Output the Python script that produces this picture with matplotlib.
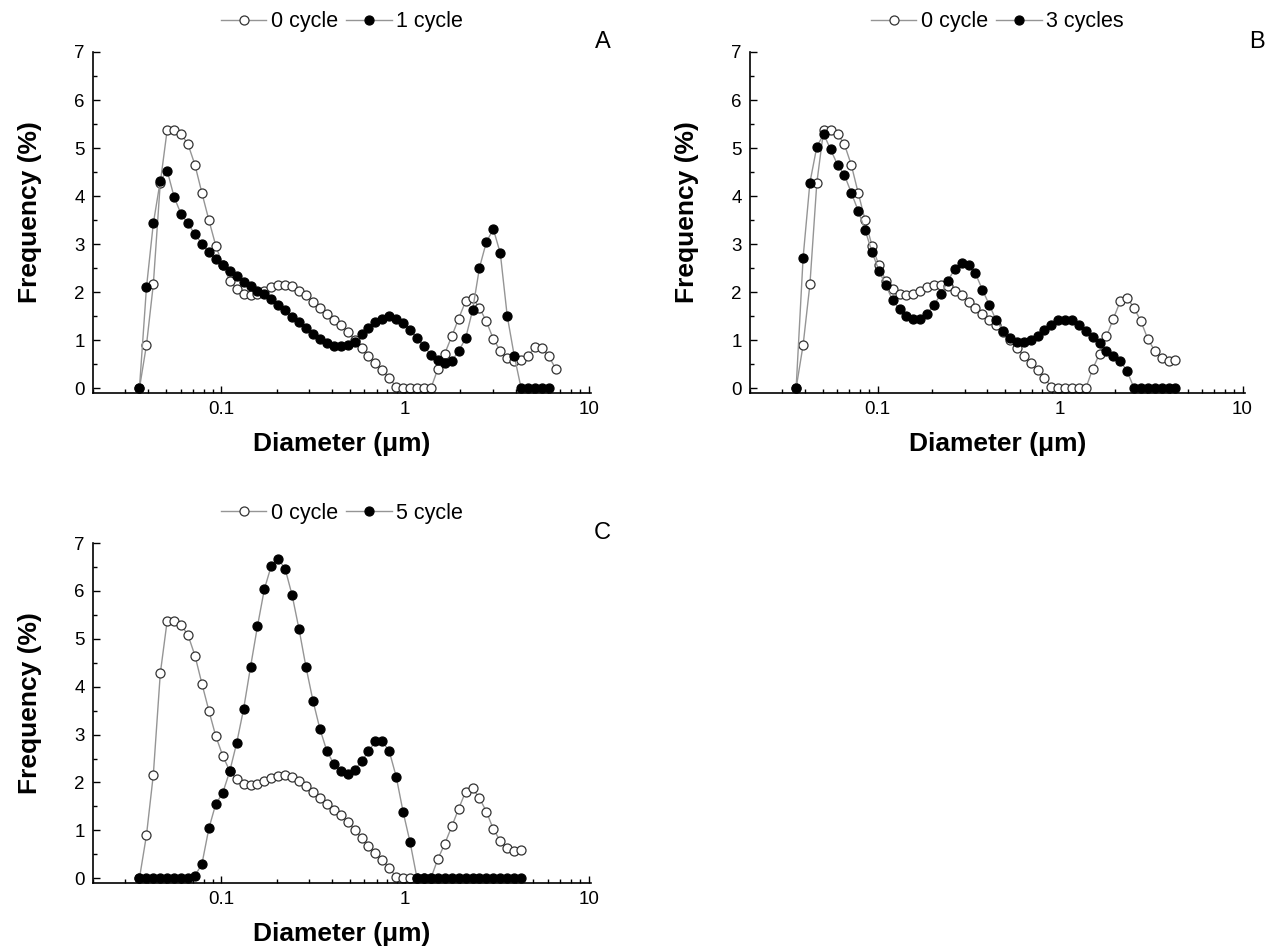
"""
Particle size distributions (frequency vs diameter) after 0, 1, 3 and 5 cycles.
Three panels: A (0 vs 1 cycle), B (0 vs 3 cycles), C (0 vs 5 cycle).
"""

import matplotlib.pyplot as plt
from matplotlib.ticker import LogLocator, MultipleLocator, FuncFormatter, NullFormatter

plt.rcParams['font.family'] = ['Liberation Sans', 'DejaVu Sans']

# Size classes (um)
diameter = [0.0358, 0.0391, 0.0426, 0.0465, 0.0507, 0.0553, 0.0604, 0.0658,
            0.0718, 0.0784, 0.0855, 0.0932, 0.1017, 0.1110, 0.1211, 0.1321,
            0.1441, 0.1572, 0.1715, 0.1871, 0.2041, 0.2226, 0.2429, 0.2649,
            0.2890, 0.3153, 0.3440, 0.3752, 0.4093, 0.4466, 0.4872, 0.5315,
            0.5798, 0.6325, 0.6900, 0.7527, 0.8212, 0.8958, 0.9773, 1.066,
            1.163, 1.269, 1.384, 1.510, 1.647, 1.797, 1.960, 2.139,
            2.333, 2.545, 2.777, 3.029, 3.304, 3.605, 3.933, 4.290,
            4.680, 5.106, 5.570, 6.076, 6.629]

# Frequency (%) of each series
freq_0cycle = [0, 0.90, 2.16, 4.28, 5.38, 5.38, 5.29, 5.08, 4.65, 4.06,
               3.50, 2.97, 2.56, 2.24, 2.07, 1.96, 1.94, 1.96, 2.02, 2.10,
               2.14, 2.15, 2.12, 2.03, 1.93, 1.80, 1.67, 1.55, 1.43, 1.31,
               1.18, 1.01, 0.84, 0.68, 0.52, 0.38, 0.21, 0.03, 0, 0,
               0, 0, 0, 0.40, 0.72, 1.08, 1.45, 1.81, 1.88, 1.67,
               1.39, 1.02, 0.78, 0.63, 0.56, 0.58, 0.67, 0.86, 0.84, 0.66,
               0.40]

freq_1cycle = [0, 2.10, 3.43, 4.32, 4.53, 3.98, 3.62, 3.43, 3.20, 3.01,
               2.83, 2.70, 2.56, 2.45, 2.33, 2.22, 2.12, 2.02, 1.96, 1.86,
               1.73, 1.62, 1.48, 1.37, 1.25, 1.13, 1.02, 0.95, 0.88, 0.87,
               0.90, 0.97, 1.13, 1.25, 1.38, 1.44, 1.50, 1.44, 1.36, 1.22,
               1.04, 0.87, 0.70, 0.59, 0.52, 0.57, 0.77, 1.04, 1.62, 2.51,
               3.05, 3.31, 2.81, 1.50, 0.68, 0, 0, 0, 0, 0]

freq_3cycles = [0, 2.72, 4.28, 5.03, 5.29, 4.97, 4.65, 4.44, 4.07, 3.69,
                3.29, 2.84, 2.45, 2.14, 1.83, 1.64, 1.51, 1.45, 1.45, 1.55,
                1.74, 1.96, 2.23, 2.49, 2.61, 2.56, 2.39, 2.05, 1.74, 1.41,
                1.20, 1.04, 0.96, 0.96, 1.00, 1.08, 1.22, 1.32, 1.41, 1.43,
                1.41, 1.32, 1.20, 1.06, 0.94, 0.77, 0.68, 0.57, 0.35, 0,
                0, 0, 0, 0, 0, 0]

freq_5cycle = [0, 0, 0, 0, 0, 0, 0, 0, 0.05, 0.30,
               1.04, 1.55, 1.78, 2.23, 2.82, 3.53, 4.41, 5.26, 6.04, 6.53,
               6.67, 6.46, 5.91, 5.20, 4.41, 3.71, 3.12, 2.66, 2.39, 2.23,
               2.18, 2.26, 2.44, 2.65, 2.86, 2.86, 2.65, 2.12, 1.38, 0.75,
               0, 0, 0, 0, 0, 0, 0, 0, 0, 0,
               0, 0, 0, 0, 0, 0]

fig = plt.figure(figsize=(12.69, 9.52), dpi=100)

line_gray = '#959595'


def draw_panel(rect, y_open, y_fill, labels, letter):
    ax = fig.add_axes(rect)
    ax.plot(diameter[:len(y_open)], y_open, '-o', color=line_gray, lw=1.0,
            ms=6.5, mfc='white', mec='#333333', mew=0.9, label=labels[0])
    ax.plot(diameter[:len(y_fill)], y_fill, '-o', color=line_gray, lw=1.0,
            ms=6.5, mfc='black', mec='black', mew=0.9, label=labels[1])

    ax.set_xscale('log')
    ax.set_xlim(0.02, 10.3)
    ax.set_ylim(-0.1, 7)

    ax.xaxis.set_major_locator(LogLocator(base=10))
    ax.xaxis.set_minor_locator(LogLocator(base=10, subs=range(2, 10)))
    ax.xaxis.set_major_formatter(FuncFormatter(lambda v, p: f'{v:g}'))
    ax.xaxis.set_minor_formatter(NullFormatter())
    ax.yaxis.set_major_locator(MultipleLocator(1))
    ax.yaxis.set_minor_locator(MultipleLocator(0.5))

    for side in ['top', 'right']:
        ax.spines[side].set_visible(False)
    for side in ['left', 'bottom']:
        ax.spines[side].set_linewidth(1.2)

    ax.tick_params(which='both', direction='in', width=1.0, labelsize=13.5, pad=6)
    ax.tick_params(which='major', length=5)
    ax.tick_params(which='minor', length=3)

    ax.set_xlabel('Diameter (μm)', fontsize=19, fontweight='bold')
    ax.set_ylabel('Frequency (%)', fontsize=19, fontweight='bold')
    ax.xaxis.label.set_va('center')
    ax.yaxis.label.set_va('center')
    ax.xaxis.set_label_coords(0.5, -0.15)
    ax.yaxis.set_label_coords(-0.127, 0.53)

    ax.legend(loc='center', bbox_to_anchor=(0.5, 1.088), ncol=2, frameon=False,
              fontsize=15.5, handlelength=2.1, handletextpad=0.2,
              columnspacing=0.4, borderaxespad=0, numpoints=1)

    ax.text(1.04, 1.03, letter, transform=ax.transAxes, ha='right',
            va='center', fontsize=17)
    return ax


draw_panel([0.0733, 0.5872, 0.3924, 0.3582], freq_0cycle, freq_1cycle,
           ['0 cycle', '1 cycle'], 'A')
draw_panel([0.591, 0.5872, 0.390, 0.3582], freq_0cycle[:56], freq_3cycles,
           ['0 cycle', '3 cycles'], 'B')
draw_panel([0.0733, 0.0725, 0.3924, 0.357], freq_0cycle[:56], freq_5cycle,
           ['0 cycle', '5 cycle'], 'C')

fig.savefig('out.png', dpi=100)
